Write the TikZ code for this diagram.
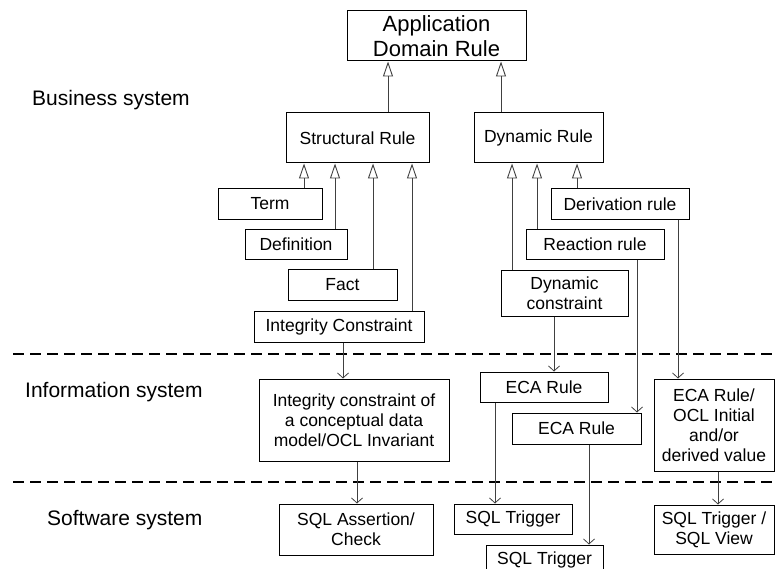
\documentclass[tikz,border=0pt]{standalone}
\usepackage{fontspec}
\setmainfont{Liberation Sans}
\usetikzlibrary{arrows.meta}
\tikzset{
  box/.style={draw=black, line width=1pt, inner sep=0pt, align=center,
    font=\fontsize{17.5}{20}\selectfont},
  bigbox/.style={box, font=\fontsize{22}{25}\selectfont},
  layerlabel/.style={anchor=west, inner sep=0pt, font=\fontsize{21}{24}\selectfont},
  gen/.style={draw=black!75, line width=0.9pt, -{Triangle[open,length=15pt,width=10pt,line width=0.9pt]}},
  flow/.style={draw=black!75, line width=0.9pt, -{Straight Barb[length=5pt,width=11pt,line width=0.8pt]}},
  layerline/.style={draw=black, line width=2pt, dash pattern=on 11pt off 6pt}
}
\begin{document}
\begin{tikzpicture}[x=1pt, y=-1pt]
\useasboundingbox (0,0) rectangle (775,569);
\clip (0,0) rectangle (775,569);

% layer labels
\node[layerlabel] (lbus) at (32,100) {Business system};
\node[layerlabel] (linf) at (25,392) {Information system};
\node[layerlabel] (lsoft) at (47,520) {Software system};

% layer separators
\coordinate (d1l) at (13,354);
\coordinate (d1r) at (775,354);
\coordinate (d2l) at (13,482);
\coordinate (d2r) at (775,482);
\draw[layerline] (d1l) -- (d1r);
\draw[layerline] (d2l) -- (d2r);

% business system boxes
\node[bigbox, minimum width=179pt, minimum height=50pt] (app) at (436.5,36) {Application\\Domain Rule};
\node[box, minimum width=143pt, minimum height=50pt] (struct) at (357.5,138) {Structural Rule};
\node[box, minimum width=129pt, minimum height=50pt] (dyn) at (538.5,138) {Dynamic Rule};
\node[box, minimum width=104pt, minimum height=30pt] (term) at (270,204) {Term};
\node[box, minimum width=102pt, minimum height=30pt] (defn) at (296,244) {Definition};
\node[box, minimum width=109pt, minimum height=31pt] (fact) at (342.5,284.5) {Fact};
\node[box, minimum width=170pt, minimum height=31pt] (ic) at (339,326.5) {Integrity Constraint};
\node[box, minimum width=138pt, minimum height=30pt] (deriv) at (620,204) {Derivation rule};
\node[box, minimum width=138pt, minimum height=30pt] (react) at (595,244) {Reaction rule};
\node[box, minimum width=127pt, minimum height=46pt] (dcon) at (564.5,293) {Dynamic\\constraint};

% information system boxes
\node[box, minimum width=190pt, minimum height=82pt] (icm) at (354,420) {Integrity constraint of\\a conceptual data\\model/OCL Invariant};
\node[box, minimum width=128pt, minimum height=30pt] (eca1) at (544,387) {ECA Rule};
\node[box, minimum width=129pt, minimum height=31pt] (eca2) at (576.5,428.5) {ECA Rule};
\node[box, minimum width=120pt, minimum height=92pt] (ecaocl) at (714,425) {ECA Rule/\\OCL Initial\\and/or\\derived value};

% software system boxes
\node[box, minimum width=154pt, minimum height=51pt] (sqlac) at (356,529.5) {SQL Assertion/\\Check};
\node[box, minimum width=118pt, minimum height=30pt] (sqlt1) at (513,519) {SQL Trigger};
\node[box, minimum width=117pt, minimum height=30pt] (sqlt2) at (544.5,560) {SQL Trigger};
\node[box, minimum width=120pt, minimum height=49pt] (sqltv) at (714,529.5) {SQL Trigger /\\SQL View};

% generalisations
\draw[gen] ([xshift=30.5pt]struct.north) -- ([xshift=30.5pt]struct.north |- app.south);
\draw[gen] ([xshift=-37.5pt]dyn.north) -- ([xshift=-37.5pt]dyn.north |- app.south);
\draw[gen] ([xshift=34pt]term.north) -- ([xshift=34pt]term.north |- struct.south);
\draw[gen] ([xshift=39pt]defn.north) -- ([xshift=39pt]defn.north |- struct.south);
\draw[gen] ([xshift=30.5pt]fact.north) -- ([xshift=30.5pt]fact.north |- struct.south);
\draw[gen] ([xshift=73pt]ic.north) -- ([xshift=73pt]ic.north |- struct.south);
\draw[gen] ([xshift=-52.5pt]dcon.north) -- ([xshift=-52.5pt]dcon.north |- dyn.south);
\draw[gen] ([xshift=-58pt]react.north) -- ([xshift=-58pt]react.north |- dyn.south);
\draw[gen] ([xshift=-43pt]deriv.north) -- ([xshift=-43pt]deriv.north |- dyn.south);

% refinements between layers
\draw[flow] ([xshift=4pt]ic.south) -- ([xshift=4pt]ic.south |- icm.north);
\draw[flow] ([xshift=-10.5pt]dcon.south) -- ([xshift=-10.5pt]dcon.south |- eca1.north);
\draw[flow] ([xshift=42pt]react.south) -- ([xshift=42pt]react.south |- eca2.north);
\draw[flow] ([xshift=58pt]deriv.south) -- ([xshift=58pt]deriv.south |- ecaocl.north);
\draw[flow] ([xshift=3pt]icm.south) -- ([xshift=3pt]icm.south |- sqlac.north);
\draw[flow] ([xshift=-49pt]eca1.south) -- ([xshift=-49pt]eca1.south |- sqlt1.north);
\draw[flow] ([xshift=12.5pt]eca2.south) -- ([xshift=12.5pt]eca2.south |- sqlt2.north);
\draw[flow] ([xshift=4pt]ecaocl.south) -- ([xshift=4pt]ecaocl.south |- sqltv.north);
\end{tikzpicture}
\end{document}
